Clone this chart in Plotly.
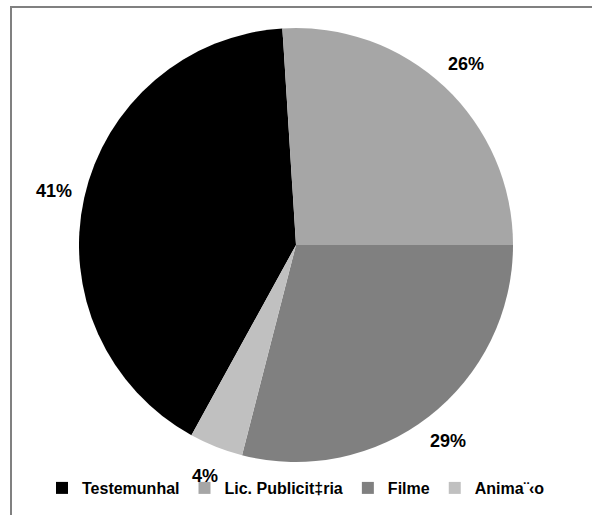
import math
import plotly.graph_objects as go

# Share of each category (percent)
categories = ["Testemunhal", "Lic. Publicit‡ria", "Filme", "Anima¨‹o"]
shares = [41, 26, 29, 4]

colors = ["#000000", "#a8a8a8", "#808080", "#c0c0c0"]
patterns = ["", ".", "", ""]

W, H = 592, 515
cx, cy, r = 296, 245, 217          # pie centre / radius in px (top-left origin)
rotation = 208.8                    # first slice start angle, clockwise from 12 o'clock

dom_x = [(cx - r) / W, (cx + r) / W]
dom_y = [(H - cy - r) / H, (H - cy + r) / H]

fig = go.Figure(
    go.Pie(
        labels=categories,
        values=shares,
        sort=False,
        direction="clockwise",
        rotation=rotation,
        textinfo="none",
        hoverinfo="label+percent",
        marker=dict(
            colors=colors,
            line=dict(width=0),
            pattern=dict(
                shape=patterns,
                fgcolor="#5a5a5a",
                bgcolor="#e2e2e2",
                size=2,
                solidity=0.5,
            ),
        ),
        domain=dict(x=dom_x, y=dom_y),
    )
)

# Percentage labels placed outside each slice at its mid-angle
total = sum(shares)
label_r = r + 31
annotations = []
start = rotation
for v in shares:
    span = 360 * v / total
    mid = math.radians(start + span / 2)
    px = cx + label_r * math.sin(mid)
    py = cy - label_r * math.cos(mid)
    annotations.append(
        dict(
            x=px / W,
            y=1 - py / H,
            xref="paper",
            yref="paper",
            text=f"{round(100 * v / total)}%",
            showarrow=False,
            font=dict(family="Liberation Sans", size=18, color="#000000", weight="bold"),
            xanchor="center",
            yanchor="middle",
        )
    )
    start += span

fig.update_layout(
    width=W,
    height=H,
    margin=dict(l=0, r=0, t=0, b=0),
    paper_bgcolor="#ffffff",
    plot_bgcolor="#ffffff",
    annotations=annotations,
    showlegend=True,
    legend=dict(
        orientation="h",
        x=0.5,
        xanchor="center",
        y=(H - 488) / H,
        yanchor="middle",
        font=dict(family="Liberation Sans", size=16, color="#000000", weight="bold"),
        itemwidth=30,
        traceorder="normal",
        bgcolor="rgba(0,0,0,0)",
    ),
    shapes=[
        dict(
            type="rect",
            xref="paper",
            yref="paper",
            x0=11 / W,
            x1=1.05,
            y0=-0.05,
            y1=1 - 7 / H,
            line=dict(color="#808080", width=2),
            fillcolor="rgba(0,0,0,0)",
            layer="below",
        )
    ],
)

fig.write_html("out.html")
